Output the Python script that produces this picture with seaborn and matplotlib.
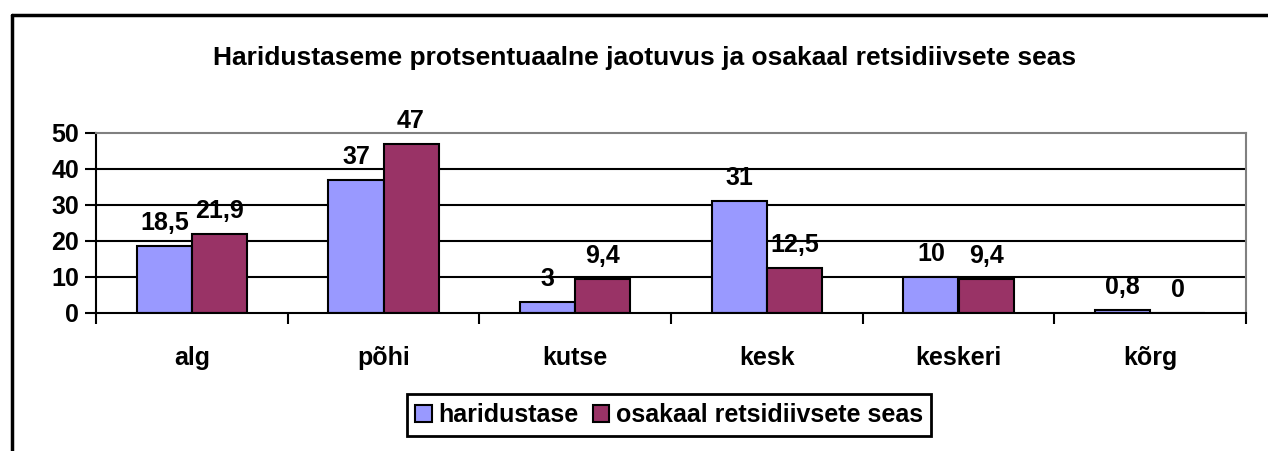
import matplotlib
matplotlib.use("Agg")
import matplotlib.pyplot as plt
import seaborn as sns
import pandas as pd
from matplotlib.lines import Line2D
from matplotlib.patches import Patch

categories = ["alg", "põhi", "kutse", "kesk", "keskeri", "kõrg"]
haridustase = [18.5, 37, 3, 31, 10, 0.8]
osakaal = [21.9, 47, 9.4, 12.5, 9.4, 0]
series_names = ["haridustase", "osakaal retsidiivsete seas"]
yticks = [0, 10, 20, 30, 40, 50]

sns.set_theme(style="white")
plt.rcParams['font.family'] = ['Liberation Sans', 'DejaVu Sans']
plt.rcParams['text.color'] = 'black'
plt.rcParams['xtick.color'] = 'black'
plt.rcParams['ytick.color'] = 'black'

df = pd.DataFrame({
    "kategooria": categories * 2,
    "väärtus": haridustase + osakaal,
    "seeria": [series_names[0]] * len(categories) + [series_names[1]] * len(categories),
})

FS = 18
W, H = 1268, 451
fig = plt.figure(figsize=(W / 100, H / 100), dpi=100)
ax = fig.add_axes([96 / W, 1 - 313 / H, (1246 - 96) / W, (313 - 133) / H])

colors = ["#9999FF", "#993366"]
sns.barplot(data=df, x="kategooria", y="väärtus", hue="seeria", order=categories,
            hue_order=series_names, palette=colors, width=0.574, ax=ax,
            edgecolor="black", linewidth=1.5, legend=False, saturation=1)

ax.set_ylim(0, 50)
ax.set_xlim(-0.5, len(categories) - 0.5)
ax.set_yticks(yticks)
ax.set_yticklabels([str(t) for t in yticks], fontsize=FS, fontweight="bold", color="black")
ax.set_xticks(range(len(categories)))
ax.set_xticklabels(categories, fontsize=FS, fontweight="bold", color="black")
ax.set_xlabel("")
ax.set_ylabel("")

for t in yticks[1:-1]:
    ax.axhline(t, color="black", lw=1.5, zorder=0)

for s in ["top", "right"]:
    ax.spines[s].set_visible(True)
    ax.spines[s].set_color("#808080")
    ax.spines[s].set_linewidth(1.5)
for s in ["left", "bottom"]:
    ax.spines[s].set_color("black")
    ax.spines[s].set_linewidth(1.5)

ax.tick_params(axis="y", direction="out", length=8, width=1.5, color="black", pad=4, left=True)
ax.tick_params(axis="x", length=0, pad=24)
ax.set_xticks([i - 0.5 for i in range(len(categories) + 1)], minor=True)
ax.tick_params(axis="x", which="minor", direction="out", length=8, width=1.5, color="black", bottom=True)

for cont in ax.containers:
    labels = [("%g" % bar.get_height()).replace(".", ",") for bar in cont]
    ax.bar_label(cont, labels=labels, padding=8, fontsize=FS, fontweight="bold", color="black")

fig.text(645 / W, 1 - 58 / H, "Haridustaseme protsentuaalne jaotuvus ja osakaal retsidiivsete seas",
         ha="center", va="center", fontsize=19, fontweight="bold", color="black")

handles = [Patch(facecolor=colors[i], edgecolor="black", linewidth=1.5, label=series_names[i]) for i in range(2)]
leg = fig.legend(handles=handles, loc="center", bbox_to_anchor=(669 / W, 1 - 415 / H), ncol=2,
                 frameon=True, fancybox=False, edgecolor="black", framealpha=1,
                 prop={"size": FS, "weight": "bold"},
                 handlelength=0.65, handleheight=0.65, handletextpad=0.25, columnspacing=0.6,
                 borderpad=0.35, borderaxespad=0)
leg.get_frame().set_linewidth(2)
for t in leg.get_texts():
    t.set_color("black")

fig.add_artist(Line2D([12 / W, 12 / W], [0, 1 - 15 / H], color="black", lw=2.5, transform=fig.transFigure))
fig.add_artist(Line2D([12 / W, 1], [1 - 15 / H, 1 - 15 / H], color="black", lw=2.5, transform=fig.transFigure))

fig.savefig("out.png", dpi=100)
